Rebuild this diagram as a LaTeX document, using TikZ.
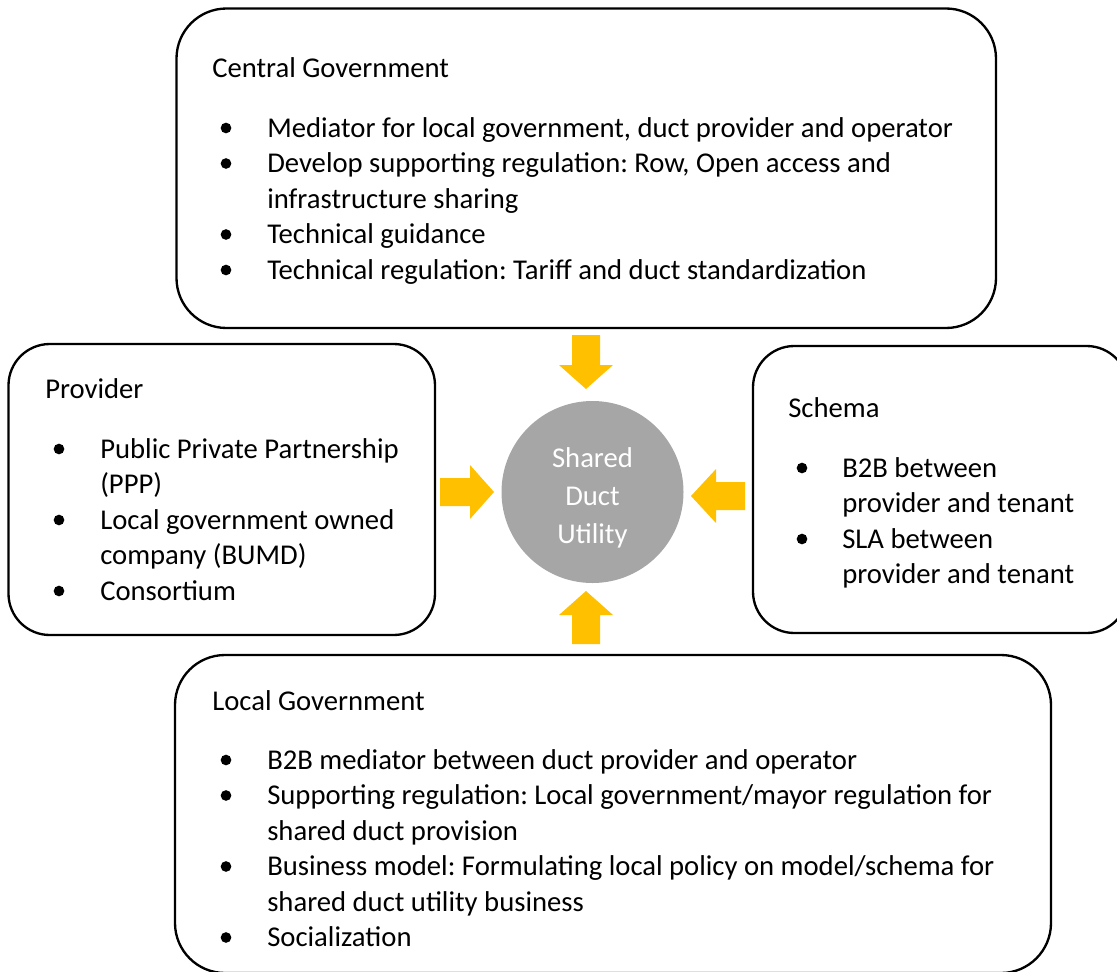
\documentclass[tikz,border=0pt]{standalone}
\usepackage{fontspec}
\setmainfont{Carlito}
\frenchspacing
\begin{document}
\begin{tikzpicture}[x=0.75pt,y=0.75pt,yscale=-1,xscale=1,
  panel/.style={draw=black, line width=1.75, rounded corners=37.5pt},
  sidepanel/.style={draw=black, line width=1.75, rounded corners=31pt},
  bodytext/.style={anchor=base west, inner sep=0pt, align=left, font=\fontsize{21.5}{26.6}\selectfont},
  dot/.style={fill=black},
  arrowfill/.style={fill={rgb, 255:red, 255; green, 192; blue, 0 }},
  duct/.style={circle, fill={rgb, 255:red, 166; green, 166; blue, 166 }, minimum size=136.5pt, inner sep=0pt}
]
\clip (0,0) rectangle (1117,971);

%Rounded Rect: central government
\draw [panel] (176.5,8.5) rectangle (996,328);
\node [bodytext] (cgtitle) at (212,77) {Central Government};
\node [bodytext] (cgone) at (267,137) {Mediator for local government, duct provider and operator};
% base of a two-line node sits on its last line
\node [bodytext] (cgtwo) at (267,208) {Develop supporting regulation: Row, Open access and\\infrastructure sharing};
\node [bodytext] (cgthree) at (267,243.5) {Technical guidance};
\node [bodytext] (cgfour) at (267,279) {Technical regulation: Tariff and duct standardization};
\fill [dot] (226,128) circle (4pt);
\fill [dot] (226,163.5) circle (4pt);
\fill [dot] (226,234.5) circle (4pt);
\fill [dot] (226,270) circle (4pt);

%Rounded Rect: provider
\draw [sidepanel] (8.5,344) rectangle (435,635);
\node [bodytext] (prtitle) at (45,398) {Provider};
\node [bodytext] (prone) at (100,493.5) {Public Private Partnership\\(PPP)};
\node [bodytext] (prtwo) at (100,564.5) {Local government owned\\company (BUMD)};
\node [bodytext] (prthree) at (100,600) {Consortium};
\fill [dot] (59,449) circle (4pt);
\fill [dot] (59,520) circle (4pt);
\fill [dot] (59,591) circle (4pt);

%Rounded Rect: schema
\draw [sidepanel] (753,346) rectangle (1128,633);
\node [bodytext] (sctitle) at (788,417) {Schema};
\node [bodytext] (scone) at (842,512.5) {B2B between\\provider and tenant};
\node [bodytext] (sctwo) at (842,583.5) {SLA between\\provider and tenant};
\fill [dot] (802,468) circle (4pt);
\fill [dot] (802,539) circle (4pt);

%Rounded Rect: local government
\draw [panel] (175,655) rectangle (1051,973);
\node [bodytext] (lgtitle) at (212,710) {Local Government};
\node [bodytext] (lgone) at (267,769) {B2B mediator between duct provider and operator};
\node [bodytext] (lgtwo) at (267,840) {Supporting regulation: Local government/mayor regulation for\\shared duct provision};
\node [bodytext] (lgthree) at (267,911) {Business model: Formulating local policy on model/schema for\\shared duct utility business};
\node [bodytext] (lgfour) at (267,946.5) {Socialization};
\fill [dot] (226,760) circle (4pt);
\fill [dot] (226,795.5) circle (4pt);
\fill [dot] (226,866.5) circle (4pt);
\fill [dot] (226,937.5) circle (4pt);

%Shape: Circle
\node [duct] (duct) at (592.5,492) {};
\node [anchor=base, inner sep=0pt, align=center, text=white, font=\fontsize{21.5}{28.5}\selectfont] (ductlabel) at (592.5,543) {Shared\\Duct\\Utility};

%Shape: Down Arrow
\fill [arrowfill] (572,335) -- (600,335) -- (600,365) -- (613,365) -- (586,389) -- (559,365) -- (572,365) -- cycle;
%Shape: Up Arrow
\fill [arrowfill] (586,591) -- (613,615) -- (600,615) -- (600,644) -- (572,644) -- (572,615) -- (559,615) -- cycle;
%Shape: Right Arrow
\fill [arrowfill] (440,478) -- (470,478) -- (470,465) -- (494,492) -- (470,519) -- (470,506) -- (440,506) -- cycle;
%Shape: Left Arrow
\fill [arrowfill] (745,482) -- (716,482) -- (716,469) -- (691,496) -- (716,523) -- (716,510) -- (745,510) -- cycle;

\end{tikzpicture}
\end{document}
